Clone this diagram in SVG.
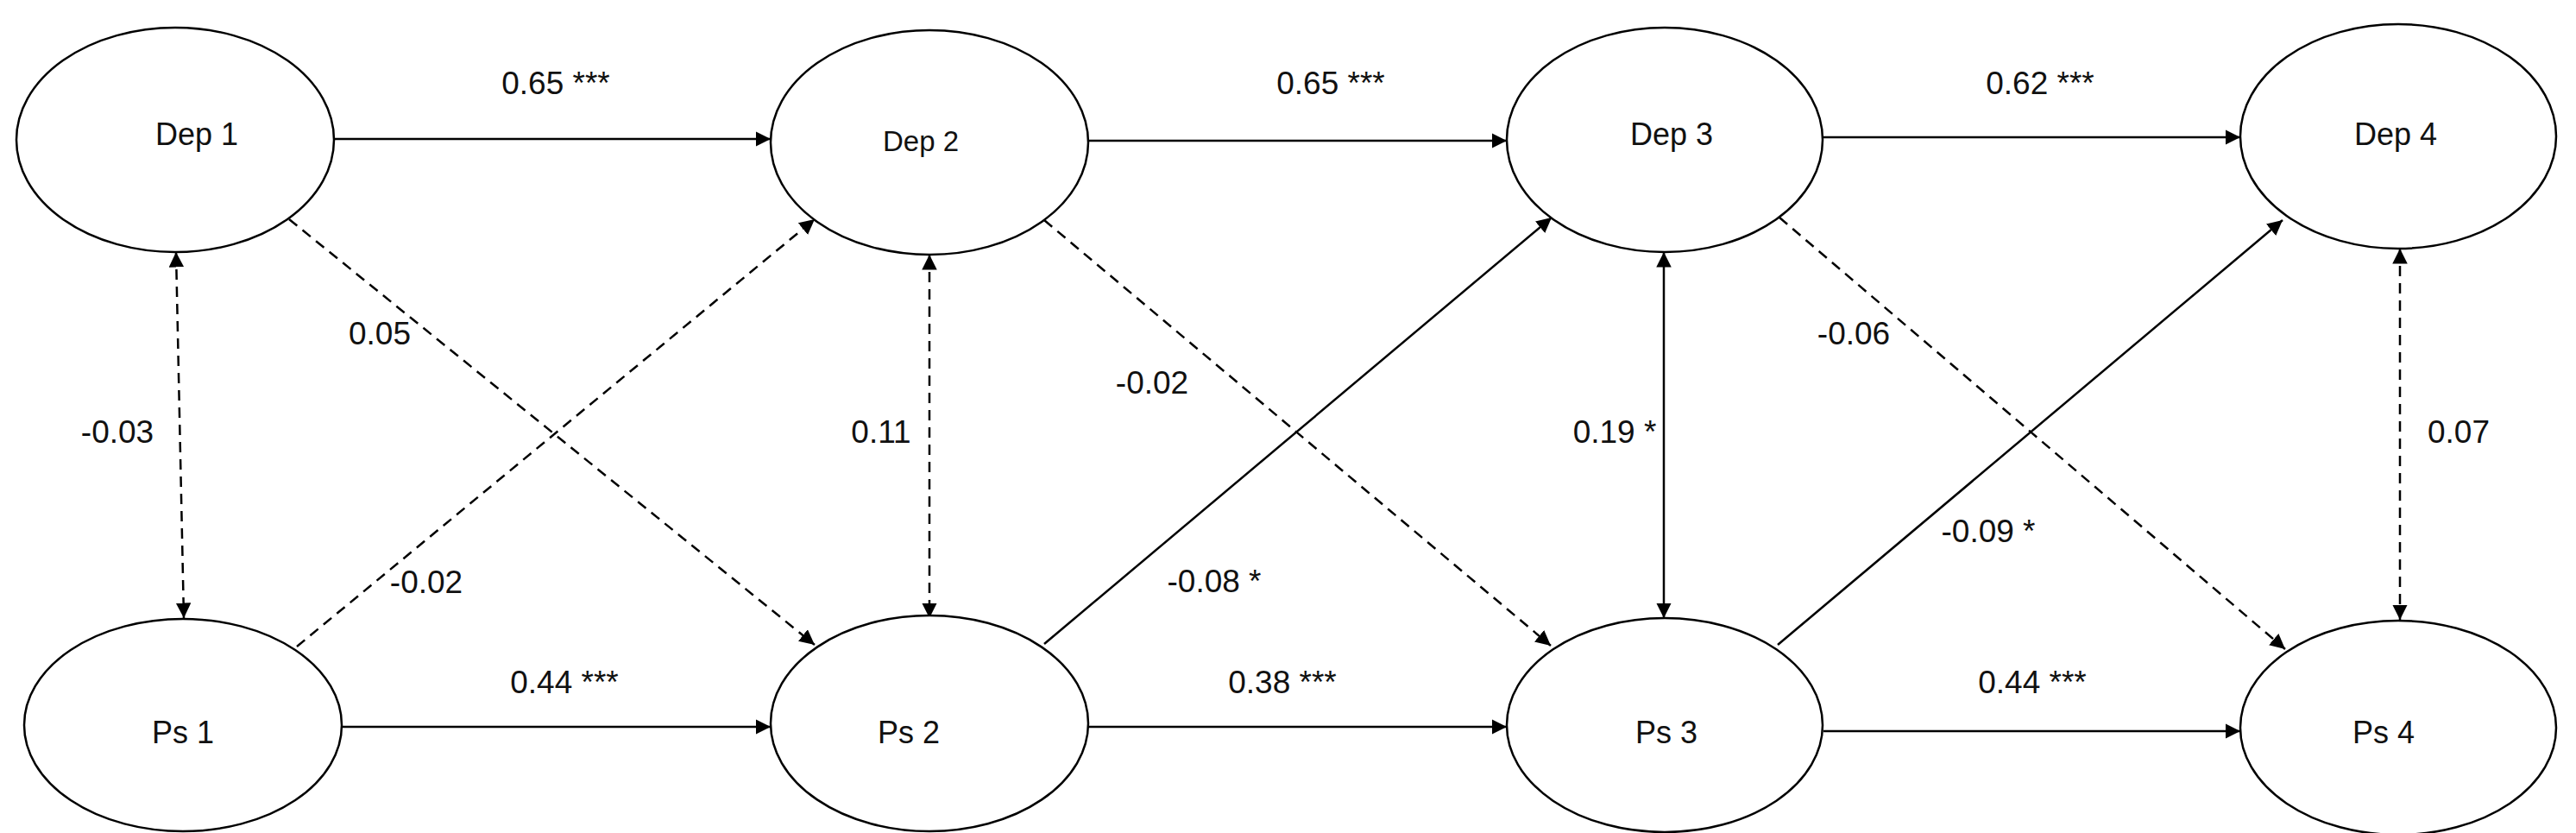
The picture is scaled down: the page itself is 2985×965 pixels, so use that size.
<svg xmlns="http://www.w3.org/2000/svg" width="2985" height="965" viewBox="0 0 2985 965">
<style>
.n{fill:#fff;stroke:#000;stroke-width:2.5}
.t{font-family:"Liberation Sans",Arial,sans-serif;font-size:36px;fill:#111;text-anchor:middle;dominant-baseline:central}
.l{font-family:"Liberation Sans",Arial,sans-serif;font-size:37px;fill:#111;text-anchor:middle;dominant-baseline:central}
.c{fill:none;stroke:#000;stroke-width:2.5;marker-end:url(#a)}
.d{stroke-dasharray:12 8}
.b{marker-start:url(#s)}
</style>
<defs>
<marker id="a" viewBox="0 0 10 10" refX="10" refY="5" markerWidth="7" markerHeight="7" markerUnits="strokeWidth" orient="auto"><path d="M0,0L10,5L0,10z" fill="#000"/></marker>
<marker id="s" viewBox="0 0 10 10" refX="0" refY="5" markerWidth="7" markerHeight="7" markerUnits="strokeWidth" orient="auto"><path d="M10,0L0,5L10,10z" fill="#000"/></marker>
</defs>
<rect width="2985" height="965" fill="#fff"/>
<g id="connectors">
<line class="c" x1="386" y1="161" x2="893" y2="161"/>
<line class="c" x1="1261" y1="163" x2="1746" y2="163"/>
<line class="c" x1="2113" y1="159" x2="2596" y2="159"/>
<line class="c" x1="395" y1="842" x2="893" y2="842"/>
<line class="c" x1="1261" y1="842" x2="1746" y2="842"/>
<line class="c" x1="2113" y1="847" x2="2596" y2="847"/>
<line class="c d b" x1="204" y1="292" x2="213" y2="716"/>
<line class="c d b" x1="1077" y1="295" x2="1077" y2="716"/>
<line class="c b" x1="1928" y1="292" x2="1928" y2="716"/>
<line class="c d b" x1="2781" y1="288" x2="2781" y2="718"/>
<line class="c d" x1="335" y1="254" x2="944" y2="747"/>
<line class="c d" x1="344" y1="749" x2="944" y2="254"/>
<line class="c d" x1="1210" y1="255" x2="1797" y2="748"/>
<line class="c" x1="1210" y1="746" x2="1798" y2="252"/>
<line class="c d" x1="2062" y1="252" x2="2648" y2="752"/>
<line class="c" x1="2060" y1="747" x2="2645" y2="255"/>
</g>
<g id="labels">
<text class="l" x="644" y="96">0.65 ***</text>
<text class="l" x="1542" y="96">0.65 ***</text>
<text class="l" x="2364" y="96">0.62 ***</text>
<text class="l" x="440" y="386">0.05</text>
<text class="l" x="136" y="500">-0.03</text>
<text class="l" x="494" y="674">-0.02</text>
<text class="l" x="654" y="790">0.44 ***</text>
<text class="l" x="1021" y="500">0.11</text>
<text class="l" x="1335" y="443">-0.02</text>
<text class="l" x="1407" y="673">-0.08 *</text>
<text class="l" x="1486" y="790">0.38 ***</text>
<text class="l" x="1871" y="500">0.19 *</text>
<text class="l" x="2148" y="386">-0.06</text>
<text class="l" x="2304" y="615">-0.09 *</text>
<text class="l" x="2849" y="500">0.07</text>
<text class="l" x="2355" y="790">0.44 ***</text>
</g>
<g id="dep1"><ellipse class="n" cx="203" cy="162" rx="184" ry="130"/><text class="t" x="228" y="155">Dep 1</text></g>
<g id="dep2"><ellipse class="n" cx="1077" cy="165" rx="184" ry="130"/><text class="t" x="1067" y="163" style="font-size:33px">Dep 2</text></g>
<g id="dep3"><ellipse class="n" cx="1929" cy="162" rx="183" ry="130"/><text class="t" x="1937" y="155">Dep 3</text></g>
<g id="dep4"><ellipse class="n" cx="2779" cy="158" rx="183" ry="130"/><text class="t" x="2776" y="155">Dep 4</text></g>
<g id="ps1"><ellipse class="n" cx="212" cy="840" rx="184" ry="123"/><text class="t" x="212" y="848">Ps 1</text></g>
<g id="ps2"><ellipse class="n" cx="1077" cy="838" rx="184" ry="125"/><text class="t" x="1053" y="848">Ps 2</text></g>
<g id="ps3"><ellipse class="n" cx="1929" cy="840" rx="183" ry="124"/><text class="t" x="1931" y="848">Ps 3</text></g>
<g id="ps4"><ellipse class="n" cx="2779" cy="843" rx="183" ry="124"/><text class="t" x="2762" y="848">Ps 4</text></g>
</svg>
